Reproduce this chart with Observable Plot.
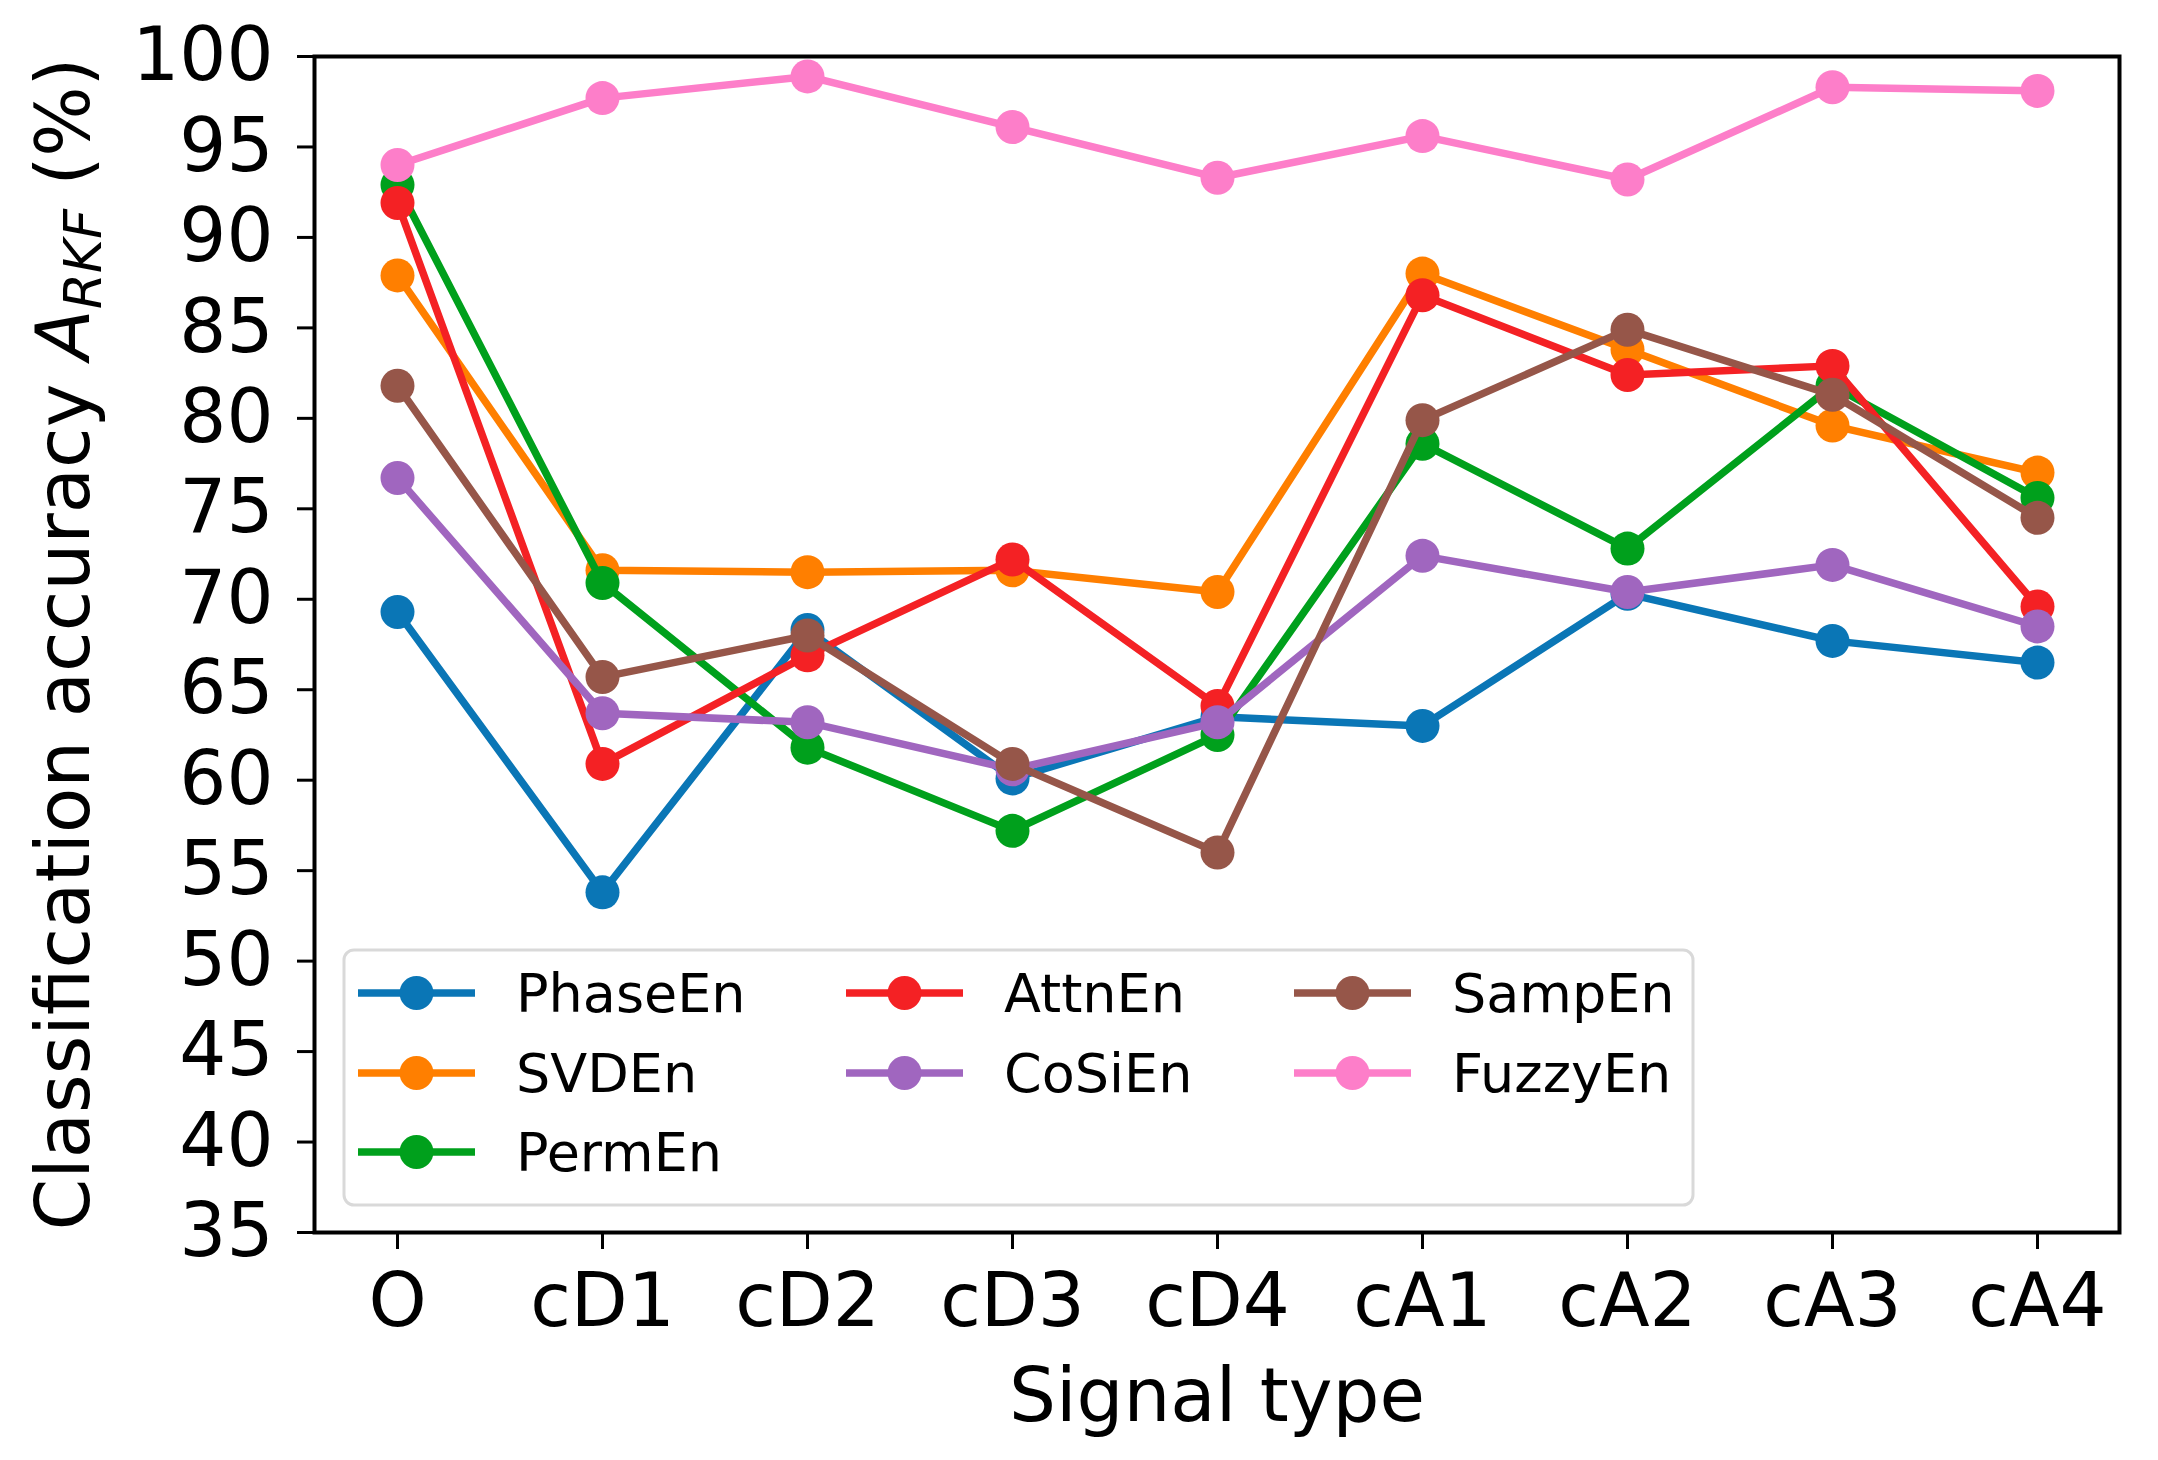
<!DOCTYPE html>
<html>
<head>
<meta charset="utf-8">
<script src="https://cdn.jsdelivr.net/npm/d3@7"></script>
<script src="https://cdn.jsdelivr.net/npm/@observablehq/plot@0.6"></script>
<style>
  body { margin: 0; background: #fff; overflow: hidden; }
  #chart { position: relative; width: 2158px; height: 1460px; }
</style>
</head>
<body>
<div id="chart"></div>
<script>
// signal types on the x axis
const signals = ['O', 'cD1', 'cD2', 'cD3', 'cD4', 'cA1', 'cA2', 'cA3', 'cA4']
const yTicks = [35, 40, 45, 50, 55, 60, 65, 70, 75, 80, 85, 90, 95, 100]

// entropy methods, in legend / draw order
const methods = ['PhaseEn', 'SVDEn', 'PermEn', 'AttnEn', 'CoSiEn', 'SampEn', 'FuzzyEn']
const colors = ['#0a76b6', '#ff7f00', '#00a01c', '#f42124', '#a066bf', '#965649', '#fd7ec9']

// classification accuracy (%) per signal type
const phaseEn = [69.3, 53.8, 68.3, 60.1, 63.5, 63.0, 70.3, 67.7, 66.5]
const svdEn   = [87.9, 71.6, 71.5, 71.6, 70.4, 88.0, 83.8, 79.6, 77.0]
const permEn  = [92.9, 70.9, 61.8, 57.2, 62.5, 78.6, 72.8, 81.8, 75.6]
const attnEn  = [91.9, 60.9, 66.9, 72.2, 64.1, 86.8, 82.4, 82.9, 69.6]
const cosiEn  = [76.7, 63.7, 63.2, 60.6, 63.2, 72.4, 70.4, 71.9, 68.5]
const sampEn  = [81.8, 65.7, 68.0, 60.9, 56.0, 79.9, 84.9, 81.3, 74.5]
const fuzzyEn = [94.0, 97.7, 98.9, 96.1, 93.3, 95.6, 93.2, 98.3, 98.1]

const series = [phaseEn, svdEn, permEn, attnEn, cosiEn, sampEn, fuzzyEn]
const data = series.map((vals, i) =>
  vals.map((v, j) => ({method: methods[i], signal: signals[j], value: v})))

const font = 'DejaVu Sans, sans-serif'

// each series: line then its markers, so later series sit on top (like matplotlib)
const seriesMarks = data.flatMap(rows => [
  Plot.line(rows, {x: 'signal', y: 'value', stroke: 'method', strokeWidth: 7.5}),
  Plot.dot(rows, {x: 'signal', y: 'value', fill: 'method', r: 17})
])

let chart = Plot.plot({
  width: 2158,
  height: 1460,
  marginLeft: 314,
  marginRight: 39,
  marginTop: 56,
  marginBottom: 228,
  style: {fontFamily: font, fontSize: '74px', color: '#000', background: '#fff'},
  x: {type: 'point', domain: signals, padding: 0.4, label: null},
  y: {domain: [35, 100], label: null},
  color: {domain: methods, range: colors},
  marks: [
    Plot.axisX({tickSize: 17, tickPadding: 24, strokeWidth: 3, fontSize: 74, label: null}),
    Plot.axisY({ticks: yTicks, tickSize: 17, tickPadding: 24, strokeWidth: 3, fontSize: 74, label: null}),
    ...seriesMarks,
    Plot.frame({stroke: '#000', strokeWidth: 4}),
    Plot.text(['Signal type'], {frameAnchor: 'bottom', lineAnchor: 'bottom', dy: 188, fontSize: 74})
  ]
})

const svg = d3.select(chart)

// y label with italic A and subscript RKF
const ylab = svg.append('text')
  .attr('transform', 'translate(89,644) rotate(-90)')
  .attr('text-anchor', 'middle')
  .attr('font-family', font)
  .attr('font-size', 74)
  .attr('fill', '#000')
ylab.append('tspan').text('Classification accuracy ')
ylab.append('tspan').attr('font-style', 'italic').text('A')
ylab.append('tspan').attr('font-style', 'italic').attr('font-size', 52).attr('dy', 12).text('RKF')
ylab.append('tspan').attr('dy', -12).text(' (%)')

// legend box inside the axes, matplotlib ncol=3 fills columns 3,2,2
const legendCol = [0, 0, 0, 1, 1, 2, 2]
const legendRow = [0, 1, 2, 0, 1, 0, 1]
const lg = svg.append('g').attr('font-family', font).attr('text-anchor', 'start')
lg.append('rect')
  .attr('x', 344).attr('y', 950).attr('width', 1349).attr('height', 255)
  .attr('rx', 10)
  .attr('fill', '#fff').attr('fill-opacity', 0.8)
  .attr('stroke', '#d9d9d9').attr('stroke-width', 3)

const colX = [358, 846, 1294]
const rowY = [993, 1073, 1152]
methods.forEach((m, i) => {
  const x = colX[legendCol[i]]
  const y = rowY[legendRow[i]]
  const g = lg.append('g').attr('transform', `translate(${x},${y})`)
  g.append('line').attr('x1', 0).attr('x2', 117).attr('y1', 0).attr('y2', 0)
    .attr('stroke', colors[i]).attr('stroke-width', 7.5)
  g.append('circle').attr('cx', 58.5).attr('cy', 0).attr('r', 17).attr('fill', colors[i])
  g.append('text').attr('x', 158).attr('y', 0).attr('dy', '0.36em')
    .attr('text-anchor', 'start')
    .attr('font-size', 54).attr('fill', '#000').text(m)
})

d3.select('#chart').append(() => chart)
</script>
</body>
</html>
